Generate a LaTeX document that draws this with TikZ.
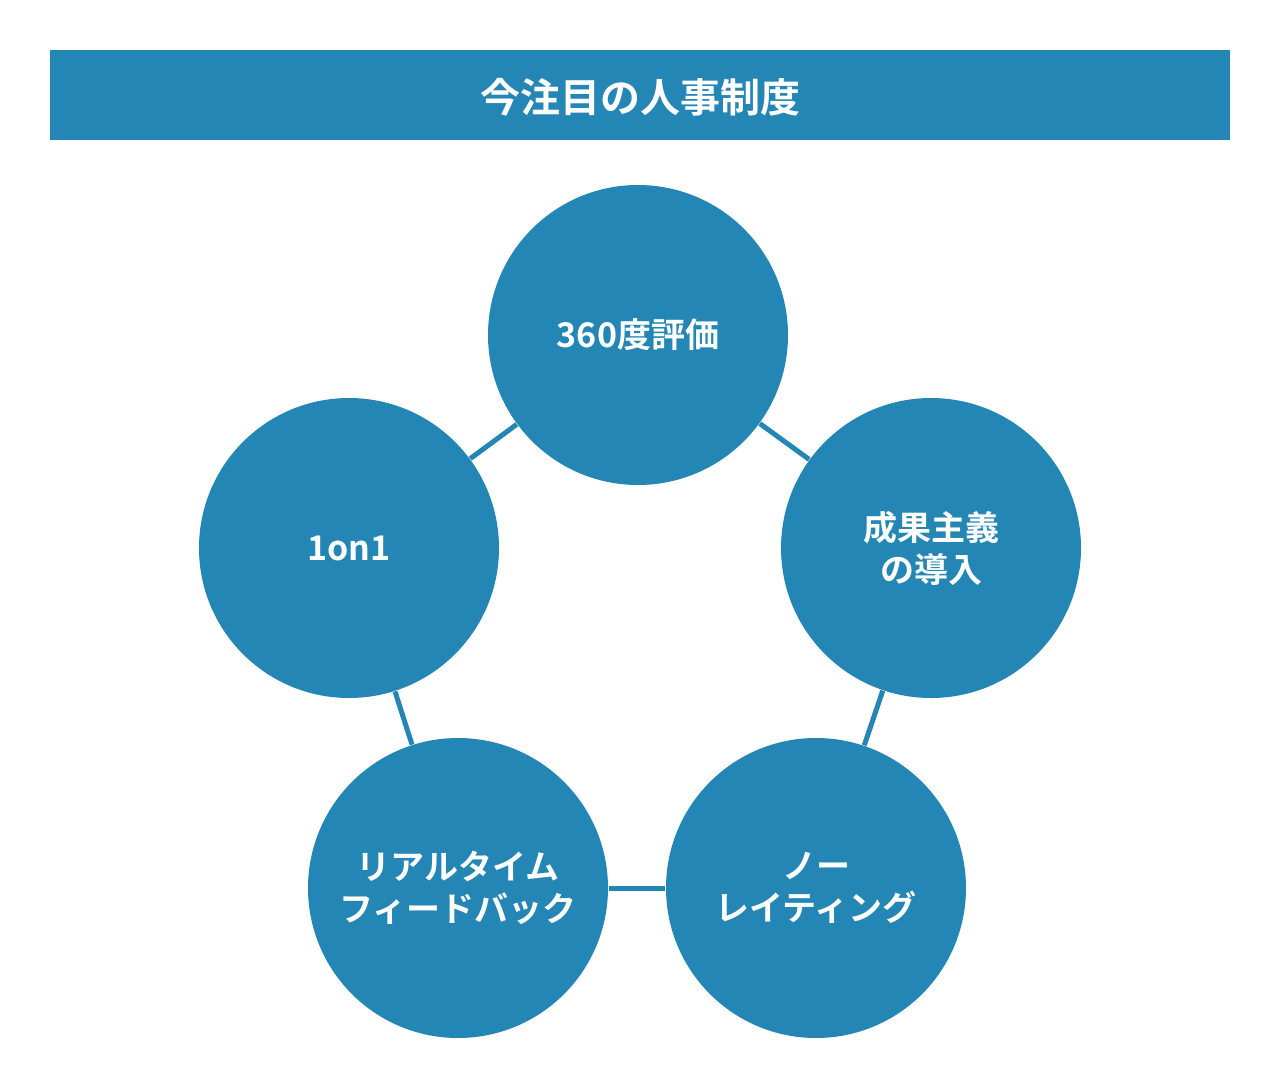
\documentclass[tikz,border=0pt]{standalone}
\usepackage{fontspec}
\newfontfamily\jpfont{Noto Sans CJK JP Bold}
\definecolor{hrblue}{HTML}{2386B4}
\begin{document}
\begin{tikzpicture}[x=0.5pt, y=-0.5pt, semithick]
	\tikzstyle{topic} = [circle, fill=hrblue, minimum size=150pt, inner sep=0pt, align=center, text=white, font={\jpfont\fontsize{17}{21}\selectfont}];
	\tikzstyle{link} = [hrblue, line width=2.5pt];
	\useasboundingbox (0,0) rectangle (1280,1087);
	\fill[hrblue] (50,50) rectangle (1230,140);
	\node[text=white, font={\jpfont\fontsize{20}{24}\selectfont}] (title) at (640,97) {今注目の人事制度};

	\node[topic] (eval) at (638,335) {360度評価};
	\node[topic] (result) at (931,548) {成果主義\\の導入};
	\node[topic] (norate) at (816,888) {ノー\\レイティング};
	\node[topic] (feedback) at (458,888) {リアルタイム\\フィードバック};
	\node[topic] (oneonone) at (349,548) {1on1};

	\draw[link] (eval) -- (result);
	\draw[link] (result) -- (norate);
	\draw[link] (norate) -- (feedback);
	\draw[link] (feedback) -- (oneonone);
	\draw[link] (oneonone) -- (eval);
\end{tikzpicture}
\end{document}
